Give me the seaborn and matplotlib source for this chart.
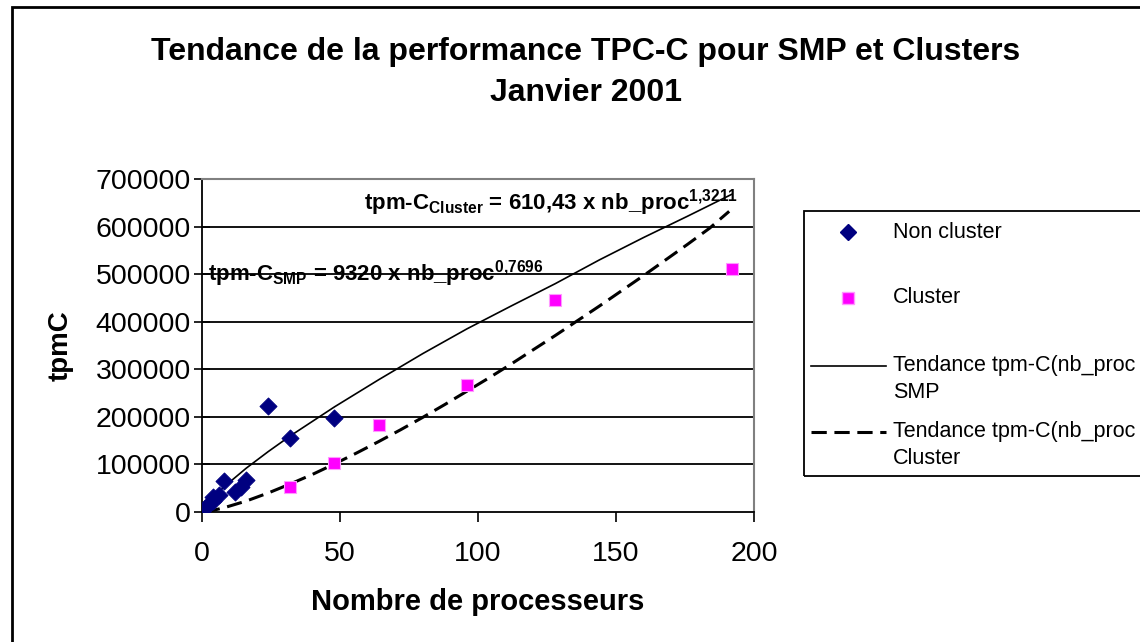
import numpy as np
import pandas as pd
import matplotlib
matplotlib.use("Agg")
import matplotlib.pyplot as plt
from matplotlib.lines import Line2D
from matplotlib.patches import Rectangle
import seaborn as sns

# points
smp_procs = [1, 2, 4, 4, 6, 8, 12, 14, 16, 24, 32, 48]
smp_tpmc = [8000, 15000, 24000, 32000, 35000, 66000, 42000, 52000, 68000, 222000, 155000, 197000]

cluster_procs = [32, 48, 64, 96, 128, 192]
cluster_tpmc = [52000, 102000, 182000, 266000, 445000, 510000]

# trend lines as drawn
trend_smp_x = [0, 4, 8, 16, 24, 32, 48, 64, 80, 96, 112, 128, 144, 160, 176, 192]
trend_smp_y = [0, 30000, 53000, 92000, 127000, 160000, 221000, 278000, 333000,
               385000, 433000, 480000, 530000, 577000, 622000, 668000]

trend_cl_x = [1, 4, 8, 16, 24, 32, 40, 48, 56, 64, 72, 80, 88, 96, 104, 112, 120,
              128, 136, 144, 152, 160, 168, 176, 184, 191]
trend_cl_y = [600, 3500, 9000, 23000, 40000, 59000, 79000, 101000, 124000, 148000,
              173000, 199000, 226000, 254000, 282000, 311000, 341000, 371000, 402000,
              433000, 465000, 497000, 530000, 563000, 597000, 632000]

yticks = [0, 100000, 200000, 300000, 400000, 500000, 600000, 700000]
xticks = [0, 50, 100, 150, 200]

plt.rcParams['font.family'] = ['Liberation Sans', 'DejaVu Sans']
plt.rcParams['mathtext.fontset'] = 'custom'
plt.rcParams['mathtext.rm'] = 'Liberation Sans:bold'
plt.rcParams['mathtext.bf'] = 'Liberation Sans:bold'
plt.rcParams['mathtext.it'] = 'Liberation Sans:bold'

W, H = 1140, 642
fig = plt.figure(figsize=(W / 100, H / 100), dpi=100)
ax = fig.add_axes([202 / W, 1 - 512 / H, (754 - 202) / W, (512 - 179) / H])

navy = '#000080'
magenta = '#FF00FF'

sns.lineplot(x=trend_smp_x, y=trend_smp_y, ax=ax, color='black', lw=1.2, zorder=3)
sns.lineplot(x=trend_cl_x, y=trend_cl_y, ax=ax, color='black', lw=2.2, zorder=3,
             linestyle=(0, (5, 2.5)))
sns.scatterplot(x=smp_procs, y=smp_tpmc, ax=ax, marker='D', s=75, color=navy,
                edgecolor=navy, zorder=4)
sns.scatterplot(x=cluster_procs, y=cluster_tpmc, ax=ax, marker='s', s=75, color=magenta,
                edgecolor='#FF99FF', linewidth=0.8, zorder=4)

ax.set_xlim(0, 200)
ax.set_ylim(0, 700000)
ax.set_xticks(xticks)
ax.set_yticks(yticks)
ax.set_yticklabels([str(v) for v in yticks], fontsize=20.5)
ax.set_xticklabels([str(v) for v in xticks], fontsize=20.5)
ax.tick_params(axis='y', direction='inout', length=12, width=1.2, pad=2)
ax.tick_params(axis='x', direction='out', length=7, width=1.2, pad=14)
for v in yticks[1:-1]:
    ax.axhline(v, color='black', lw=1.3, zorder=1)
ax.spines['left'].set_linewidth(1.3)
ax.spines['bottom'].set_linewidth(1.3)
ax.spines['top'].set_color('#808080')
ax.spines['right'].set_color('#808080')
ax.spines['top'].set_linewidth(1.5)
ax.spines['right'].set_linewidth(1.5)

ax.set_xlabel('Nombre de processeurs', fontsize=21, fontweight='bold', labelpad=15)
ax.set_ylabel('tpmC', fontsize=20, fontweight='bold', labelpad=16)

fig.text(364 / W, 1 - 203 / H,
         r'tpm-C$_{\mathrm{Cluster}}$ = 610,43 x nb_proc$^{\mathrm{1{,}3211}}$',
         fontsize=16, fontweight='bold', va='center', ha='left', zorder=5)
fig.text(208 / W, 1 - 274 / H,
         r'tpm-C$_{\mathrm{SMP}}$ = 9320 x nb_proc$^{\mathrm{0{,}7696}}$',
         fontsize=16, fontweight='bold', va='center', ha='left', zorder=5)

fig.text(586 / W, 1 - 52 / H, 'Tendance de la performance TPC-C pour SMP et Clusters',
         fontsize=23, fontweight='bold', ha='center', va='center')
fig.text(586 / W, 1 - 93 / H, 'Janvier 2001',
         fontsize=23, fontweight='bold', ha='center', va='center')

# outer chart frame (only left and top are inside the picture)
fig.patches.append(Rectangle((12 / W, -0.1), 1.2, 1 - 7 / H + 0.1, transform=fig.transFigure,
                             fill=False, edgecolor='black', lw=2))

# legend box drawn by hand, like Excel's
fig.patches.append(Rectangle((804 / W, 1 - 476 / H), 0.5, (476 - 211) / H,
                             transform=fig.transFigure, fill=False, edgecolor='black', lw=1.3))
leg_fs = 15.5
fig.lines.append(Line2D([848 / W], [1 - 232 / H], marker='D', ms=8, color=navy, ls='none',
                        transform=fig.transFigure))
fig.text(893 / W, 1 - 232 / H, 'Non cluster', fontsize=leg_fs, va='center')
fig.lines.append(Line2D([848 / W], [1 - 298 / H], marker='s', ms=8, color=magenta,
                        mec='#FF99FF', ls='none', transform=fig.transFigure))
fig.text(893 / W, 1 - 298 / H, 'Cluster', fontsize=leg_fs, va='center')
fig.lines.append(Line2D([811 / W, 886 / W], [1 - 366 / H] * 2, color='black', lw=1.2,
                        transform=fig.transFigure))
fig.text(893 / W, 1 - 366 / H, 'Tendance tpm-C(nb_proc', fontsize=leg_fs, va='center')
fig.text(893 / W, 1 - 393 / H, 'SMP', fontsize=leg_fs, va='center')
fig.lines.append(Line2D([811 / W, 886 / W], [1 - 432 / H] * 2, color='black', lw=2.2,
                        ls=(0, (5, 2.5)), transform=fig.transFigure))
fig.text(893 / W, 1 - 432 / H, 'Tendance tpm-C(nb_proc', fontsize=leg_fs, va='center')
fig.text(893 / W, 1 - 459 / H, 'Cluster', fontsize=leg_fs, va='center')

fig.savefig('out.png', dpi=100)
